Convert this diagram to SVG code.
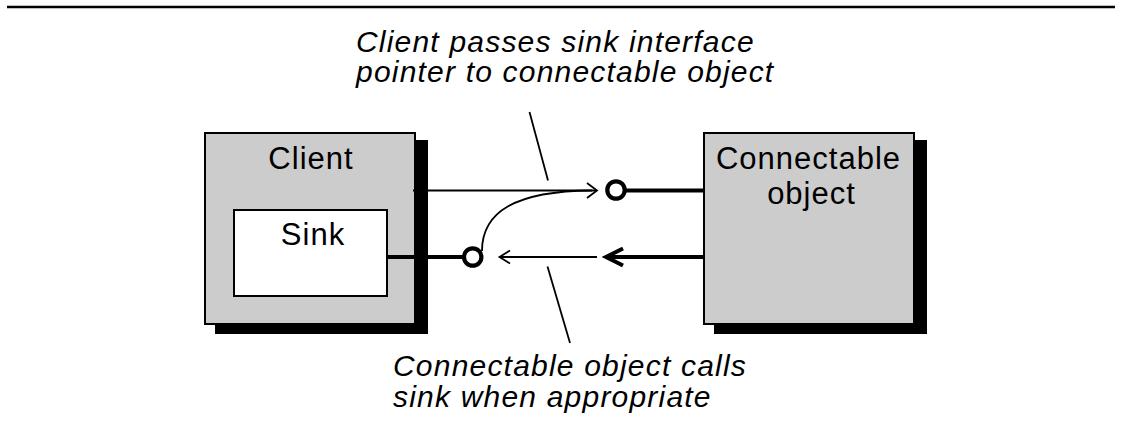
<svg xmlns="http://www.w3.org/2000/svg" width="1122" height="441" viewBox="0 0 1122 441">
<style>
.box{fill:#cccccc;stroke:#000;stroke-width:2}
.shadow{fill:#000}
.inner{fill:#fff;stroke:#000;stroke-width:2}
.lbl{font-family:"Liberation Sans",Arial,sans-serif;font-size:31px;letter-spacing:1px;fill:#000;text-anchor:middle}
.note{font-family:"Liberation Sans",Arial,sans-serif;font-size:30px;font-style:italic;letter-spacing:1.2px;fill:#000}
.thin{fill:none;stroke:#000;stroke-width:1.8}
.thick{fill:none;stroke:#000;stroke-width:4}
.lolly{fill:#fff;stroke:#000;stroke-width:4.2}
</style>
<rect width="1122" height="441" fill="#fff"/>
<line x1="7" y1="7" x2="1115" y2="7" stroke="#000" stroke-width="2.5"/>

<g id="client">
<rect class="shadow" x="215" y="140" width="213" height="194"/>
<rect class="box" x="205" y="133" width="210" height="191"/>
<text class="lbl" x="311" y="168.5">Client</text>
</g>
<g id="sink">
<rect class="inner" x="234" y="210" width="153" height="86"/>
<text class="lbl" x="313" y="245">Sink</text>
</g>
<g id="connectable">
<rect class="shadow" x="714" y="140" width="213" height="194"/>
<rect class="box" x="704" y="133" width="210" height="191"/>
<text class="lbl" x="808.5" y="169">Connectable</text>
<text class="lbl" x="811.5" y="204">object</text>
</g>

<g id="connectors">
<line class="thin" x1="413" y1="190.5" x2="596" y2="190.5"/>
<polyline class="thin" points="587,183 597,190.5 587,198"/>
<path class="thin" d="M 482 251 C 482 212, 515 191, 592 190.5"/>
<line class="thick" x1="625" y1="190.5" x2="704" y2="190.5"/>
<circle class="lolly" cx="616" cy="190" r="8.7"/>

<line class="thick" x1="387" y1="257" x2="464" y2="257"/>
<circle class="lolly" cx="472.7" cy="257" r="8.7"/>
<line class="thin" x1="500" y1="257" x2="597" y2="257"/>
<polyline class="thin" points="510,250.5 499.5,257 510,263.5"/>
<line class="thick" x1="607" y1="257" x2="704" y2="257"/>
<polyline class="thick" points="623,248.5 606,257 623,265.5" stroke-linejoin="miter"/>

<line class="thin" x1="529.5" y1="112" x2="548" y2="180.5"/>
<line class="thin" x1="547.5" y1="266.5" x2="570" y2="343"/>
</g>

<g id="note-top">
<text class="note" x="356" y="52">Client passes sink interface</text>
<text class="note" x="356" y="82">pointer to connectable object</text>
</g>
<g id="note-bottom">
<text class="note" x="393" y="376">Connectable object calls</text>
<text class="note" x="393" y="407">sink when appropriate</text>
</g>
</svg>
